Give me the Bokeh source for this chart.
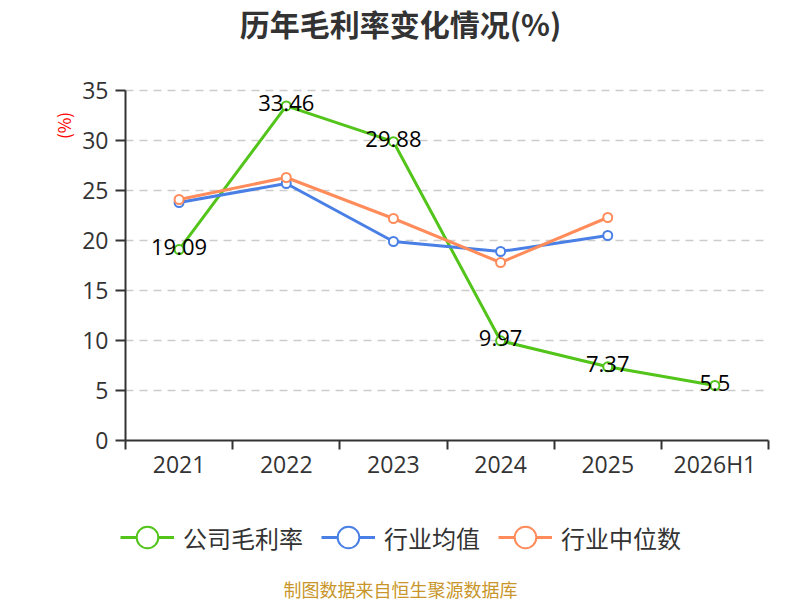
from bokeh.plotting import figure
from bokeh.embed import file_html
from bokeh.resources import INLINE
from bokeh.models import (Range1d, FixedTicker, Legend, LegendItem, Label,
                          ColumnDataSource, LinearAxis)
from bokeh.core.properties import value
import math

categories = ["2021", "2022", "2023", "2024", "2025", "2026H1"]
company = [19.09, 33.46, 29.88, 9.97, 7.37, 5.5]
ind_avg = [23.8, 25.7, 19.9, 18.9, 20.5]
ind_med = [24.1, 26.3, 22.2, 17.8, 22.3]
y_ticks = [0, 5, 10, 15, 20, 25, 30, 35]
series_names = ["公司毛利率", "行业均值", "行业中位数"]
colors = ["#52c41a", "#4a80e6", "#ff8c5a"]

# layout (page pixels)
W, H = 800, 600
AX_L, AX_R, AX_T, AX_B = 125, 768, 90, 440
ncat = len(categories)
ymax = y_ticks[-1]
xpx = (AX_R - AX_L) / ncat
ypx = (AX_B - AX_T) / ymax

xs = [i + 0.5 for i in range(ncat)]

p = figure(width=W, height=H, min_border=0,
           x_range=Range1d(-AX_L / xpx, ncat + (W - AX_R) / xpx),
           y_range=Range1d(-(H - AX_B) / ypx, ymax + AX_T / ypx),
           output_backend="svg", toolbar_location=None,
           x_axis_type=None, y_axis_type=None, title=None)
p.outline_line_color = None
p.background_fill_color = "white"
p.border_fill_color = "white"
p.xgrid.visible = False
p.ygrid.visible = False

# dashed horizontal grid within the plotting area
gy = y_ticks[1:]
p.segment(x0=[0] * len(gy), x1=[ncat] * len(gy), y0=gy, y1=gy,
          line_color="#cccccc", line_width=1.5, line_dash="8 6")

xaxis = LinearAxis(ticker=FixedTicker(ticks=xs, minor_ticks=list(range(ncat + 1))),
                   fixed_location=0, bounds=(0, ncat))
xaxis.major_label_overrides = {x: c for x, c in zip(xs, categories)}
xaxis.major_tick_out = 0
xaxis.major_tick_in = 0
xaxis.minor_tick_out = 9
xaxis.minor_tick_in = 0
xaxis.minor_tick_line_color = "#333333"
xaxis.minor_tick_line_width = 2
xaxis.axis_line_color = "#333333"
xaxis.axis_line_width = 2
xaxis.major_label_text_font = "Open Sans"
xaxis.major_label_text_font_size = "23px"
xaxis.major_label_text_color = "#333333"
xaxis.major_label_standoff = -2
p.add_layout(xaxis, "below")

yaxis = LinearAxis(ticker=FixedTicker(ticks=y_ticks), fixed_location=0, bounds=(0, ymax))
yaxis.major_tick_out = 10
yaxis.major_tick_in = 0
yaxis.minor_tick_out = 0
yaxis.minor_tick_in = 0
yaxis.major_tick_line_color = "#333333"
yaxis.major_tick_line_width = 2
yaxis.axis_line_color = "#333333"
yaxis.axis_line_width = 2
yaxis.major_label_text_font = "Open Sans"
yaxis.major_label_text_font_size = "23px"
yaxis.major_label_text_color = "#333333"
yaxis.major_label_standoff = 7
p.add_layout(yaxis, "left")

datasets = [company, ind_avg, ind_med]
items = []
for name, vals, col in zip(series_names, datasets, colors):
    src = ColumnDataSource(dict(x=xs[:len(vals)], y=vals))
    l0 = p.line("x", "y", source=src, line_color=col, line_width=3)
    s0 = p.scatter("x", "y", source=src, size=9, line_color=col, line_width=2, fill_color="white")
    items.append(LegendItem(label=name, renderers=[l0, s0]))

lab_src = ColumnDataSource(dict(x=xs, y=company, t=[f"{v:g}" for v in company]))
p.text("x", "y", text="t", source=lab_src, text_align="center", text_baseline="middle",
       y_offset=-3, text_font=value("Open Sans"), text_font_size="22px", text_color="black")

legend = Legend(items=items, orientation="horizontal", location=(120, H - 565),
                glyph_width=54, glyph_height=56, label_standoff=9, spacing=18,
                padding=0, margin=0, background_fill_alpha=0, border_line_color=None,
                label_text_font="Noto Sans CJK SC", label_text_font_size="24px",
                label_text_color="#333333")
p.add_layout(legend, "center")

title = Label(x=400, y=H - 22, x_units="screen", y_units="screen", text="历年毛利率变化情况(%)",
              text_align="center", text_baseline="middle", text_font="Noto Sans CJK SC",
              text_font_style="bold", text_font_size="30px", text_color="#333333")
p.add_layout(title)

ylab = Label(x=63, y=H - 125, x_units="screen", y_units="screen", text="(%)", angle=math.pi / 2,
             text_align="center", text_baseline="middle", text_font="Noto Sans CJK SC",
             text_font_size="17px", text_color="#ff0000")
p.add_layout(ylab)

footer = Label(x=400, y=H - 588, x_units="screen", y_units="screen", text="制图数据来自恒生聚源数据库",
               text_align="center", text_baseline="middle", text_font="Noto Sans CJK SC",
               text_font_size="18px", text_color="#c8962a")
p.add_layout(footer)

open("out.html", "w").write(file_html(p, INLINE))
